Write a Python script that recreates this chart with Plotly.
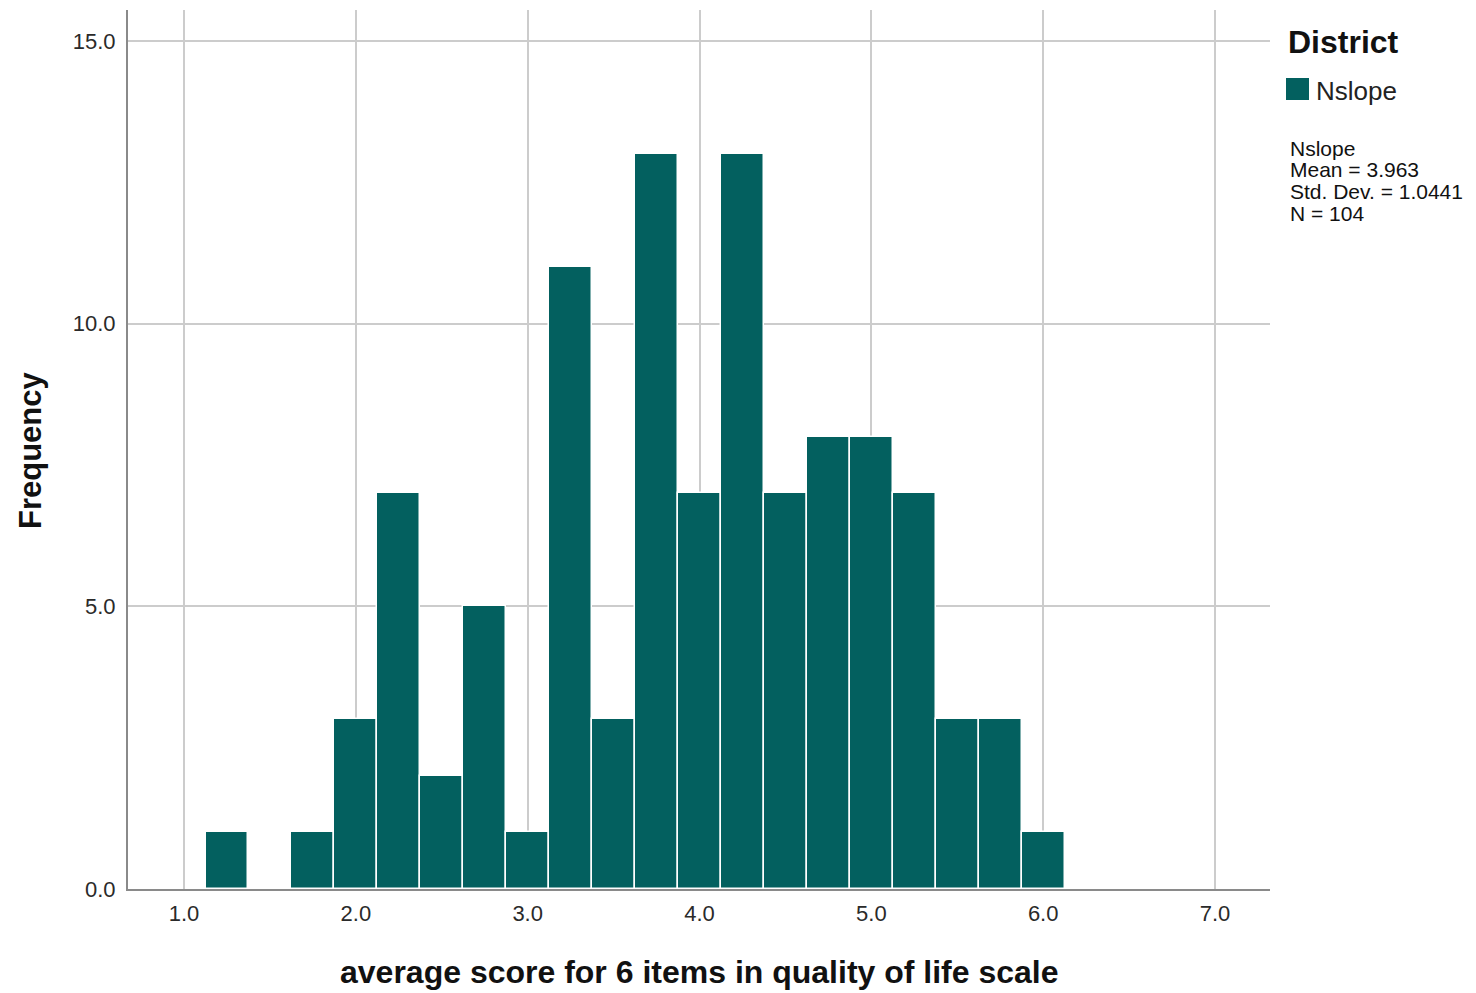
import plotly.graph_objects as go

bin_centers = [1.25, 1.5, 1.75, 2.0, 2.25, 2.5, 2.75, 3.0, 3.25, 3.5, 3.75, 4.0, 4.25, 4.5, 4.75, 5.0, 5.25, 5.5, 5.75, 6.0]
frequencies = [1, 0, 1, 3, 7, 2, 5, 1, 11, 3, 13, 7, 13, 7, 8, 8, 7, 3, 3, 1]
bin_width = 0.25
series_name = "Nslope"
legend_title = "District"
stats_lines = ["Nslope", "Mean = 3.963", "Std. Dev. = 1.0441", "N = 104"]
x_ticks = [1, 2, 3, 4, 5, 6, 7]
y_ticks = [0, 5, 10, 15]
x_title = "average score for 6 items in quality of life scale"
y_title = "Frequency"

BAR = "#03605f"
FONT = "Liberation Sans, Arial, sans-serif"
W, H = 1476, 993
L, R, T, B = 128, 206, 10, 104
PW, PH = W - L - R, H - T - B


def px(xp):
    return (xp - L) / PW


def py(yp):
    return (H - B - yp) / PH


fig = go.Figure()
fig.add_trace(go.Bar(
    x=bin_centers, y=frequencies, width=[bin_width] * len(bin_centers),
    marker=dict(color=BAR, line=dict(color="white", width=1.5)),
    name=series_name, showlegend=False,
))

fig.update_layout(
    width=W, height=H,
    margin=dict(l=L, r=R, t=T, b=B, autoexpand=False),
    plot_bgcolor="white", paper_bgcolor="white",
    font=dict(family=FONT, color="#222222"),
    bargap=0,
    xaxis=dict(
        range=[0.674, 7.32], tickvals=x_ticks, tickformat=".1f",
        showgrid=True, gridcolor="#cccccc", gridwidth=1.5,
        showline=True, linecolor="#8a8a8a", linewidth=2,
        zeroline=False, ticks="", ticklabelstandoff=4, automargin=False,
        tickfont=dict(size=22, color="#2a2a2a"),
    ),
    yaxis=dict(
        range=[0, 15.55], tickvals=y_ticks, tickformat=".1f",
        showgrid=True, gridcolor="#cccccc", gridwidth=1.5,
        showline=True, linecolor="#8a8a8a", linewidth=2,
        zeroline=False, ticks="", ticklabelstandoff=6, automargin=False,
        tickfont=dict(size=22, color="#2a2a2a"),
    ),
)

# axis titles
fig.add_annotation(xref="paper", yref="paper", x=0.5, y=py(972), xanchor="center", yanchor="middle",
                   text=f"<b>{x_title}</b>", showarrow=False,
                   font=dict(size=32, color="#111111", family=FONT))
fig.add_annotation(xref="paper", yref="paper", x=px(30), y=py(450), xanchor="center", yanchor="middle",
                   text=f"<b>{y_title}</b>", showarrow=False, textangle=-90,
                   font=dict(size=31, color="#111111", family=FONT))

# manual legend
fig.add_annotation(xref="paper", yref="paper", x=px(1286), y=py(42), xanchor="left", yanchor="middle",
                   text=f"<b>{legend_title}</b>", showarrow=False,
                   font=dict(size=32, color="#111111", family=FONT))
fig.add_shape(type="rect", xref="paper", yref="paper",
              x0=px(1286), x1=px(1309), y0=py(100), y1=py(78),
              fillcolor=BAR, line=dict(width=0))
fig.add_annotation(xref="paper", yref="paper", x=px(1314), y=py(91), xanchor="left", yanchor="middle",
                   text=series_name, showarrow=False,
                   font=dict(size=26, color="#222222", family=FONT))
for i, line in enumerate(stats_lines):
    fig.add_annotation(xref="paper", yref="paper", x=px(1288), y=py(148 + i * 21.7),
                       xanchor="left", yanchor="middle",
                       text=line, showarrow=False, align="left",
                       font=dict(size=21, color="#111111", family=FONT))

fig.write_html("out.html", config={"displayModeBar": False},
               post_script="document.body.style.margin='0';")
